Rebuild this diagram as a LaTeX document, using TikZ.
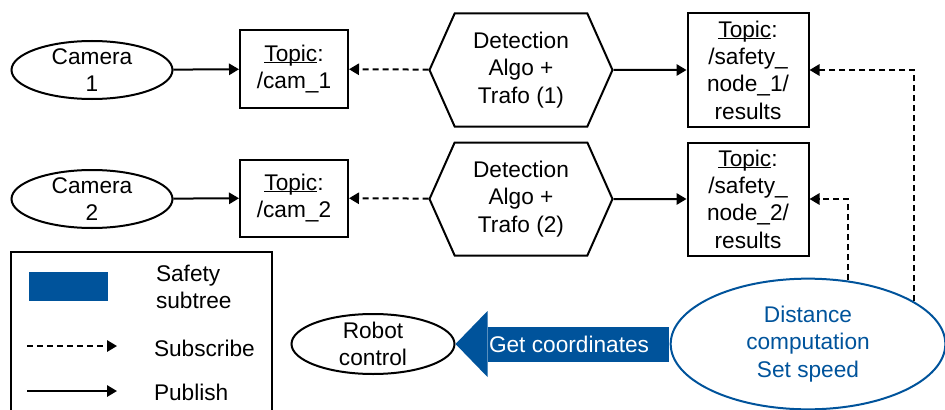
\documentclass[tikz,border=0pt]{standalone}
\usepackage{fontspec}
\setmainfont{Liberation Sans}
\usetikzlibrary{shapes.geometric, shapes.symbols, arrows.meta}
\definecolor{safetyblue}{HTML}{00539B}
\newcommand{\topicword}{\setbox0\hbox{Topic}\rlap{\rule[-1.6pt]{\wd0}{0.9pt}}\box0:}

\begin{document}
\begin{tikzpicture}[x=0.75pt, y=-0.75pt, node distance={96.75pt}, line width=1.5pt,
    font=\fontsize{17}{20.5}\selectfont,
    ellip/.style = {draw, ellipse, inner sep=-3pt, align=center},
    topic/.style = {draw, rectangle, inner sep=0pt, align=center},
    algo/.style = {draw, signal, signal to=west and east, signal pointer angle=132,
        inner sep=0pt, minimum width=137.25pt, minimum height=84.75pt, align=center},
    pub/.style = {-{Triangle[length=7.5pt, width=8.5pt]}},
    sub/.style = {pub, dash pattern=on 4.5pt off 3pt}]
    \useasboundingbox (0,0) rectangle (945,410);
    % first camera
    \node[ellip, minimum width=120.75pt, minimum height=43.5pt] (1) at (92,70) {Camera\\1};
    \node[topic, minimum width=81pt, minimum height=57.75pt] (2) at (294,69) {\topicword\\/cam\_1};
    \node[algo] (3) at (521,70) {Detection\\Algo +\\Trafo (1)};
    \node[topic, minimum width=90.75pt, minimum height=84.75pt] (4) at (748,70) {\topicword\\/safety\_\\node\_1/\\results};
    % second camera
    \node[ellip, minimum width=120.75pt, minimum height=43.5pt] (5) [below of=1] {Camera\\2};
    \node[topic, minimum width=81pt, minimum height=57.75pt] (6) [below of=2] {\topicword\\/cam\_2};
    \node[algo] (7) [below of=3] {Detection\\Algo +\\Trafo (2)};
    \node[topic, minimum width=90.75pt, minimum height=84.75pt] (8) [below of=4] {\topicword\\/safety\_\\node\_2/\\results};
    % safety subtree
    \node[ellip, minimum width=122.25pt, minimum height=45pt] (9) at (373,344) {Robot\\control};
    \node[ellip, draw=safetyblue, text=safetyblue, minimum width=206pt, minimum height=98pt] (10) at (808,344) {Distance\\computation\\Set speed};
    \draw[pub] (1) -- (2);
    \draw[sub] (3) -- (2);
    \draw[pub] (3) -- (4);
    \draw[pub] (5) -- (6);
    \draw[sub] (7) -- (6);
    \draw[pub] (7) -- (8);
    \draw[sub] (10.22) |- (4.east);
    \draw[sub] (10.58) |- (8.east);
    \draw[safetyblue, line width=26.25pt, shorten <=0.75pt, -{Triangle[length=24pt, width=49.5pt, line width=0pt]}]
        (10.west) -- (9.east) node[pos=0.47, text=white] {Get coordinates};
    % legend
    \draw (11,252) rectangle (272,412);
    \fill[safetyblue] (29,272) rectangle (108,301);
    \node[anchor=west, align=left, inner sep=0pt] (11) at (155,287) {Safety\\subtree};
    \coordinate (12) at (27,346);
    \coordinate (13) at (117,346);
    \draw[sub] (12) -- (13);
    \node[anchor=west, inner sep=0pt] (14) at (153,348) {Subscribe};
    \coordinate (15) at (27,391);
    \coordinate (16) at (117,391);
    \draw[pub] (15) -- (16);
    \node[anchor=west, inner sep=0pt] (17) at (153,392) {Publish};
\end{tikzpicture}
\end{document}
